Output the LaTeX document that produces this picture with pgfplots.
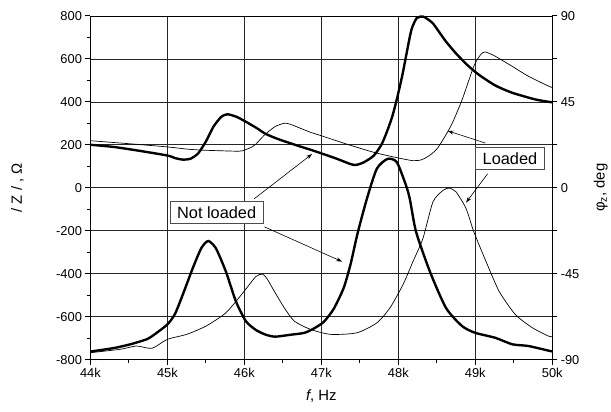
\documentclass[border=0pt]{standalone}
\usepackage{fontspec}
\setmainfont{Liberation Sans}
\usepackage{pgfplots}
\pgfplotsset{compat=1.18}
\usetikzlibrary{arrows.meta}

% |Z| in Ohm, f in kHz
\pgfplotstableread{
f z
44.0 200
44.3 190
44.6 174
45.0 150
45.1 138
45.2 131
45.3 135
45.4 160
45.5 215
45.6 285
45.7 330
45.78 342
45.9 330
46.0 311
46.15 280
46.28 250
46.45 225
46.69 196
46.85 178
47.0 160
47.2 135
47.38 110
47.45 106
47.55 118
47.68 149
47.78 200
47.85 259
47.92 330
47.98 411
48.05 520
48.1 612
48.17 735
48.24 790
48.32 797
48.38 785
48.45 765
48.55 715
48.62 680
48.75 625
48.9 570
49.05 525
49.26 476
49.48 442
49.78 411
49.97 399
50.0 398
}\nlZ

\pgfplotstableread{
f z
44.0 219
44.5 205
45.0 190
45.25 180
45.45 175
45.7 172
45.93 170
46.0 175
46.1 190
46.15 203
46.26 245
46.4 285
46.52 300
46.6 295
46.86 258
47.0 242
47.33 203
47.68 165
47.98 140
48.19 126
48.3 130
48.4 149
48.5 180
48.6 235
48.7 300
48.83 411
48.98 565
49.07 620
49.13 632
49.26 612
49.48 565
49.69 519
49.97 470
50.0 468
}\ldZ

% phase in deg
\pgfplotstableread{
f p
44.0 -85.8
44.3 -84
44.52 -82
44.73 -79.4
44.82 -77.2
45.0 -71.6
45.1 -66
45.2 -56
45.33 -42.1
45.44 -31.7
45.53 -27.9
45.63 -31.7
45.76 -43.9
45.89 -59.5
46.02 -69.9
46.15 -74.5
46.28 -77
46.4 -78
46.6 -77
46.78 -76
46.9 -73.8
47.03 -70.3
47.16 -63.5
47.29 -52.5
47.38 -40
47.47 -24
47.59 -6
47.72 9.9
47.86 15.1
47.98 13.4
48.1 1.2
48.15 -6
48.23 -23
48.41 -43.9
48.62 -63
48.83 -72.5
49.0 -76
49.26 -78.6
49.48 -82
49.69 -82.9
49.97 -85.5
50.0 -85.7
}\nlP

\pgfplotstableread{
f p
44.0 -86.4
44.39 -84.6
44.6 -82.9
44.8 -84.1
45.0 -79.4
45.25 -76.8
45.5 -72.5
45.76 -65.5
45.98 -55.1
46.15 -46.5
46.24 -45.3
46.3 -48
46.39 -54.3
46.52 -63
46.65 -69.9
46.86 -74.2
47.12 -76.8
47.46 -76
47.72 -70.8
47.89 -63
48.06 -50.8
48.19 -38.7
48.32 -26.5
48.45 -7.4
48.58 -1.4
48.66 -0.2
48.75 -2.2
48.88 -10.9
48.98 -23
49.14 -38.7
49.31 -54.3
49.52 -66.4
49.74 -73.3
49.95 -77.7
50.0 -78
}\ldP

\begin{document}
\begin{tikzpicture}
\pgfplotsset{
  every axis/.append style={
    scale only axis, width=465bp, height=346bp,
    xmin=44, xmax=50,
    tick align=outside,
    major tick length=5bp, minor tick length=3bp,
    tick style={black, line width=0.8pt},
    ticklabel style={font=\fontsize{13}{15}\selectfont},
    label style={font=\fontsize{15}{17}\selectfont},
  }
}
\begin{axis}[
  name=ax,
  ymin=-800, ymax=800,
  xtick={44,45,46,47,48,49,50},
  xticklabels={44k,45k,46k,47k,48k,49k,50k},
  minor x tick num=1,
  ytick={-800,-600,-400,-200,0,200,400,600,800},
  yticklabels={-800,-600,-400,-200,0,200,400,600,800},
  minor y tick num=1,
  xtick pos=bottom, ytick pos=left,
  grid=major,
  major grid style={black!85, line width=0.6pt},
  axis line style={black, line width=0.7pt},
  extra y ticks={0}, extra y tick labels={},
  extra y tick style={grid style={black, line width=1.3pt}},
  xlabel={\textit{f}, Hz},
  ylabel={/ Z / , Ω},
  xlabel style={at={(axis description cs:0.5,-0.105)}, anchor=center},
  ylabel style={at={(axis description cs:-0.158,0.5)}, anchor=center},
  clip=false,
]
\addplot[black, line width=2.4pt, smooth, tension=0.4] table[x=f, y=z] {\nlZ};
\addplot[black, line width=0.7pt, smooth, tension=0.4] table[x=f, y=z] {\ldZ};

\draw[-{Stealth[length=6bp,width=4bp]}, line width=0.6pt] (axis cs:46.13,-51) -- (axis cs:46.88,157);
\draw[-{Stealth[length=6bp,width=4bp]}, line width=0.6pt] (axis cs:46.26,-182) -- (axis cs:47.27,-344);
\draw[-{Stealth[length=6bp,width=4bp]}, line width=0.6pt] (axis cs:49.13,208) -- (axis cs:48.64,265);
\draw[-{Stealth[length=6bp,width=4bp]}, line width=0.6pt] (axis cs:49.16,65) -- (axis cs:48.88,-69);
\node[draw=black!70, fill=white, line width=0.8pt, inner xsep=7bp, inner ysep=5bp,
  font=\fontsize{16.5}{18}\selectfont] at (axis cs:45.64,-116) {Not loaded};
\node[draw=black!70, fill=white, line width=0.8pt, inner xsep=7bp, inner ysep=5bp,
  font=\fontsize{16.5}{18}\selectfont] at (axis cs:49.45,136) {Loaded};
\end{axis}

\begin{axis}[
  ymin=-90, ymax=90,
  axis x line=none,
  axis y line*=right,
  ytick={-90,-45,0,45,90},
  yticklabels={-90,-45,0,45,90},
  minor ytick={-67.5,-22.5,22.5,67.5},
  minor tick length=5bp,
  axis line style={black, line width=0.8pt},
  ylabel={φ\textsubscript{z}, deg},
  ylabel style={at={(axis description cs:1.105,0.5)}, anchor=center},
]
\addplot[black, line width=2.4pt, smooth, tension=0.4] table[x=f, y=p] {\nlP};
\addplot[black, line width=0.7pt, smooth, tension=0.4] table[x=f, y=p] {\ldP};
\end{axis}

\path (ax.south west) ++(-91bp,-52bp) coordinate (bbA);
\path (ax.north east) ++(55bp,16bp) coordinate (bbB);
\path (bbA) rectangle (bbB);
\end{tikzpicture}
\end{document}
